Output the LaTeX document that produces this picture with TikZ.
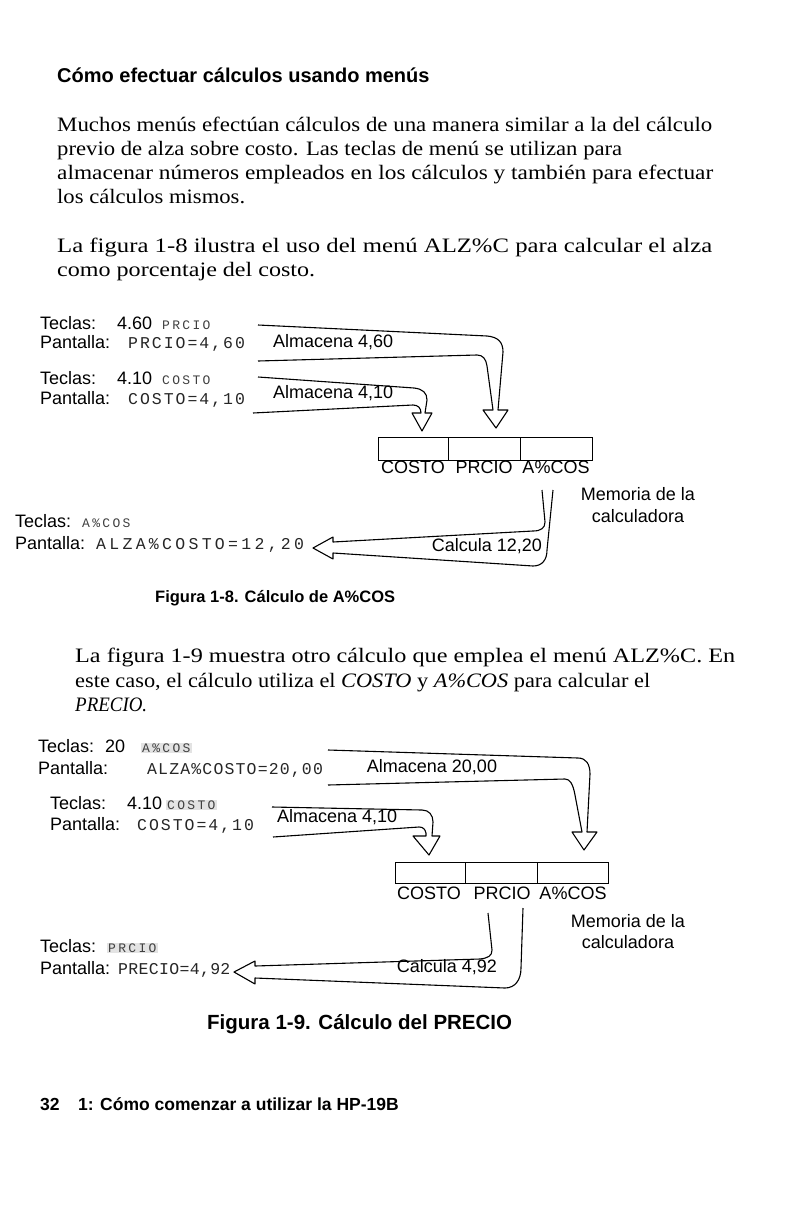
\documentclass[tikz,border=0pt]{standalone}
\usepackage{fontspec}
\usepackage{graphicx}
\setmainfont{Liberation Serif}[FakeStretch=1.1]
\newfontfamily\sansf{Liberation Sans}
\newfontfamily\heavyf{Liberation Sans Bold}
\newfontfamily\lcdbase{Liberation Mono}
\newfontfamily\keyf{Liberation Mono}[LetterSpace=18]
\newcommand{\fitline}[2]{\resizebox{#1pt}{\height}{#2}}
\begin{document}
\begin{tikzpicture}[x=1pt,y=-1pt,
  body/.style={anchor=mid west, inner sep=0pt, font=\fontsize{20.5}{24}\selectfont},
  lab/.style={anchor=mid west, inner sep=0pt, font=\sansf\fontsize{18}{20}\selectfont},
  labc/.style={lab, anchor=mid},
  lcd/.style={anchor=mid west, inner sep=0pt, text=black!85,
    font=\lcdbase\fontsize{16.5}{18}\selectfont\addfontfeature{LetterSpace=#1}},
  keyl/.style={anchor=mid west, inner sep=1pt, text=black!75, font=\keyf\fontsize{13}{14}\selectfont},
  keyhl/.style={keyl, fill=gray!22},
  head/.style={anchor=mid west, inner sep=0pt, font=\heavyf\fontsize{20}{24}\selectfont},
  figcap/.style={anchor=mid west, inner sep=0pt, font=\heavyf\fontsize{#1}{24}\selectfont},
  arr/.style={draw, line width=1.1pt, line join=round},
  membox/.style={draw, line width=1.4pt, inner sep=0pt, anchor=north west}]
\fill[white] (0,0) rectangle (793,1218);
\useasboundingbox (0,0) rectangle (793,1218);

% title and text
\node[head] (title) at (57,80) {Cómo efectuar cálculos usando menús};
\node[body] (p1a) at (57,129) {\fitline{655}{Muchos menús efectúan cálculos de una manera similar a la del cálculo}};
\node[body] (p1b) at (57,153) {\fitline{565}{previo de alza sobre costo. Las teclas de menú se utilizan para}};
\node[body] (p1c) at (57,177) {\fitline{656}{almacenar números empleados en los cálculos y también para efectuar}};
\node[body] (p1d) at (57,201) {\fitline{188}{los cálculos mismos.}};
\node[body] (p2a) at (57,250) {\fitline{655}{La figura 1-8 ilustra el uso del menú ALZ\%C para calcular el alza}};
\node[body] (p2b) at (57,274) {\fitline{258}{como porcentaje del costo.}};

% ---------- Figure 1-8 ----------
\node[lab] (t1) at (40,327) {Teclas:};
\node[lab] (t1v) at (117,327) {4.60};
\node[keyl] (t1k) at (161,327) {PRCIO};
\node[lab] (s1) at (40,346) {Pantalla:};
\node[lcd=12] (s1v) at (128,346) {PRCIO=4,60};
\node[lab] (t2) at (40,382) {Teclas:};
\node[lab] (t2v) at (117,382) {4.10};
\node[keyl] (t2k) at (161,382) {COSTO};
\node[lab] (s2) at (40,402) {Pantalla:};
\node[lcd=12] (s2v) at (128,402) {COSTO=4,10};
\node[lab] (a1l) at (273,345) {Almacena 4,60};
\node[lab] (a2l) at (273,396) {Almacena 4,10};

\coordinate (A0) at (258,325);
\coordinate (A9) at (258,361);
\path[arr] (A0) -- (487,336) .. controls (498,337) and (503,342) .. (503,352)
  -- (498,410) -- (508,410) -- (496,428) -- (483,410) -- (493,410)
  -- (487,366) .. controls (486,359) and (483,355) .. (477,355) -- (A9);
\coordinate (B0) at (258,377);
\coordinate (B9) at (253,413);
\path[arr] (B0) -- (414,388) .. controls (423,389) and (427,393) .. (427,400)
  -- (425,413) -- (432,413) -- (422,431) -- (412,413) -- (421,413)
  .. controls (421,408) and (418,405) .. (413,405) -- (B9);

\node[membox, minimum width=70pt, minimum height=23pt] (m1) at (378,437) {};
\node[membox, minimum width=72pt, minimum height=23pt] (m2) at (448,437) {};
\node[membox, minimum width=72pt, minimum height=23pt] (m3) at (520,437) {};
\node[labc] (m1l) at (413,471) {COSTO};
\node[labc] (m2l) at (484,471) {PRCIO};
\node[labc] (m3l) at (556,471) {A\%COS};
\node[labc] (mem1) at (638,498) {Memoria de la};
\node[labc] (mem2) at (638,520) {calculadora};

\node[lab] (t3) at (15,525) {Teclas:};
\node[keyl] (t3k) at (81,525) {A\%COS};
\node[lab] (s3) at (15,547) {Pantalla:};
\node[lcd=20] (s3v) at (96,547) {ALZA\%COSTO=12,20};
\coordinate (C0) at (542,490);
\coordinate (C9) at (553,490);
\path[arr] (C0) -- (545,522) .. controls (545,528) and (541,531) .. (533,531)
  -- (333,542) -- (333,537) -- (313,548) -- (333,559) -- (333,553)
  -- (533,566) .. controls (542,566) and (547,560) .. (547,550) -- (C9);
\node[labc] (c1l) at (487,549) {Calcula 12,20};

\node[figcap=16.5] (cap1) at (155,600) {Figura 1-8. Cálculo de A\%COS};

% paragraph 3
\node[body] (p3a) at (75,660) {\fitline{660}{La figura 1-9 muestra otro cálculo que emplea el menú ALZ\%C. En}};
\node[body] (p3b) at (75,685) {\fitline{575}{este caso, el cálculo utiliza el \textit{COSTO} y \textit{A\%COS} para calcular el}};
\node[body] (p3c) at (75,709) {\fitline{72}{\textit{PRECIO.}}};

% ---------- Figure 1-9 ----------
\node[lab] (u1) at (38,750) {Teclas:};
\node[lab] (u1v) at (105,750) {20};
\node[keyhl] (u1k) at (141,750) {A\%COS};
\node[lab] (v1) at (38,772) {Pantalla:};
\node[lcd=7] (v1v) at (147,772) {ALZA\%COSTO=20,00};
\node[lab] (u2) at (50,807) {Teclas:};
\node[lab] (u2v) at (127,807) {4.10};
\node[keyhl] (u2k) at (166,807) {COSTO};
\node[lab] (v2) at (50,828) {Pantalla:};
\node[lcd=12] (v2v) at (137,828) {COSTO=4,10};
\node[labc] (d1l) at (432,770) {Almacena 20,00};
\node[lab] (e1l) at (277,820) {Almacena 4,10};

\coordinate (D0) at (328,750);
\coordinate (D9) at (328,785);
\path[arr] (D0) -- (578,758) .. controls (586,758) and (590,764) .. (590,774)
  -- (587,832) -- (597,832) -- (584,850) -- (572,832) -- (582,832)
  -- (575,795) .. controls (573,784) and (570,779) .. (565,779) -- (D9);
\coordinate (E0) at (272,807);
\coordinate (E9) at (273,837);
\path[arr] (E0) -- (422,810) .. controls (429,810) and (433,815) .. (433,822)
  -- (432,836) -- (440,836) -- (429,855) -- (413,836) -- (426,836)
  -- (426,833) .. controls (425,829) and (423,827) .. (419,827) -- (E9);

\node[membox, minimum width=70pt, minimum height=21pt] (n1) at (395,862) {};
\node[membox, minimum width=72pt, minimum height=21pt] (n2) at (465,862) {};
\node[membox, minimum width=71pt, minimum height=21pt] (n3) at (537,862) {};
\node[labc] (n1l) at (429,897) {COSTO};
\node[labc] (n2l) at (502,897) {PRCIO};
\node[labc] (n3l) at (573,897) {A\%COS};
\node[labc] (mem3) at (628,925) {Memoria de la};
\node[labc] (mem4) at (628,946) {calculadora};

\node[lab] (u3) at (40,950) {Teclas:};
\node[keyhl] (u3k) at (107,950) {PRCIO};
\node[lab] (v3) at (40,972) {Pantalla:};
\node[lcd=2] (v3v) at (118,972) {PRECIO=4,92};
\coordinate (F0) at (488,913);
\coordinate (F9) at (523,908);
\path[arr] (F0) -- (492,950) .. controls (492,956) and (488,958) .. (480,959)
  -- (255,966) -- (255,961) -- (234,972) -- (255,984) -- (255,978)
  -- (505,988) .. controls (515,988) and (521,980) .. (521,968) -- (F9);
\node[labc] (f1l) at (447,970) {Calcula 4,92};

\node[figcap=20.5] (cap2) at (207,1027) {Figura 1-9. Cálculo del PRECIO};

% footer
\node[figcap=17.5] (pg) at (40,1108) {32};
\node[figcap=17.5] (foot) at (78,1108) {1: Cómo comenzar a utilizar la HP-19B};
\end{tikzpicture}
\end{document}
